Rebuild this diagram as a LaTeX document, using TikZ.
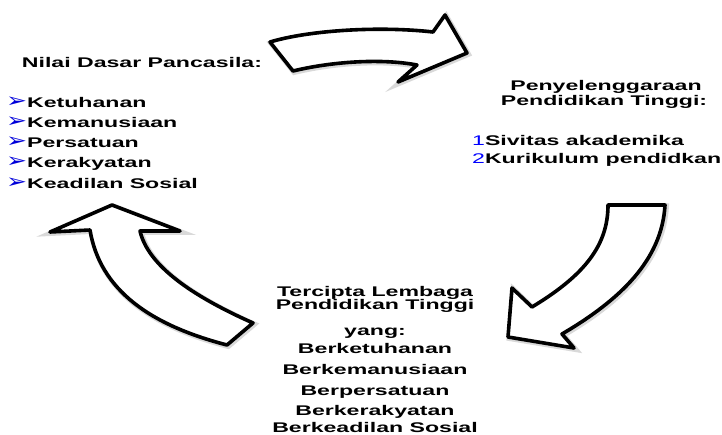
\documentclass[tikz,border=0pt]{standalone}
\usepackage{fontspec}
\newfontfamily\df[FakeStretch=1.65]{Liberation Sans Bold}
\newfontfamily\dn[FakeStretch=1.65]{Liberation Sans}
\newfontfamily\bul[FakeStretch=1.25]{DejaVu Sans}
\newcommand\bulmark{{\bul\fontsize{20}{20}\selectfont\color{blue!85!black}➢}}
\newcommand\nummark[1]{{\dn\color{blue}#1}}
\begin{document}
\begin{tikzpicture}[x=1pt,y=-1pt,
  txt/.style={font=\df\fontsize{14}{14}\selectfont, inner sep=0pt, text=black},
  arrowshape/.style={draw=black, fill=white, line width=3.6pt, line join=round,
    preaction={draw=black!60, line width=5.5pt, opacity=0.25,
      transform canvas={shift={(1.2pt,-1.2pt)}}}}]
\useasboundingbox (0,0) rectangle (722,434);

% top arrow (left to right)
\draw[arrowshape] (270,42) .. controls (310,30) and (380,26) .. (433,32)
  -- (445,15) -- (467,53) -- (398,82) -- (417,65)
  .. controls (380,58) and (330,62) .. (293,71) -- cycle;

% right arrow (down to the bottom text)
\draw[arrowshape] (608,205) -- (665,205)
  .. controls (662,260) and (620,300) .. (562,334)
  -- (574,348) -- (508,337) -- (512,288) -- (532,307)
  .. controls (585,275) and (608,245) .. (608,205) -- cycle;

% left arrow (up to the left text)
\draw[arrowshape] (112,205) -- (180,231) -- (140,231)
  .. controls (148,265) and (190,295) .. (253,323)
  -- (227,345)
  .. controls (150,325) and (100,290) .. (90,230)
  -- (50,232) -- cycle;

% left block
\node[txt, anchor=base] (lt) at (142,67) {Nilai Dasar Pancasila:};
\node[txt, anchor=base west] (l1) at (6,107) {\bulmark Ketuhanan};
\node[txt, anchor=base west] (l2) at (6,127) {\bulmark Kemanusiaan};
\node[txt, anchor=base west] (l3) at (6,147) {\bulmark Persatuan};
\node[txt, anchor=base west] (l4) at (6,167) {\bulmark Kerakyatan};
\node[txt, anchor=base west] (l5) at (6,188) {\bulmark Keadilan Sosial};

% right block
\node[txt, anchor=base] (rt1) at (606,90) {Penyelenggaraan};
\node[txt, anchor=base] (rt2) at (604,105) {Pendidikan Tinggi:};
\node[txt, anchor=base west] (r1) at (472,145) {\nummark{1}Sivitas akademika};
\node[txt, anchor=base west] (r2) at (472,163) {\nummark{2}Kurikulum pendidkan};

% bottom block
\node[txt, anchor=base] (bt1) at (375,296) {Tercipta Lembaga};
\node[txt, anchor=base] (bt2) at (375,309) {Pendidikan Tinggi};
\node[txt, anchor=base] (bt3) at (375,335) {yang:};
\node[txt, anchor=base] (b1) at (375,353) {Berketuhanan};
\node[txt, anchor=base] (b2) at (375,374) {Berkemanusiaan};
\node[txt, anchor=base] (b3) at (375,395) {Berpersatuan};
\node[txt, anchor=base] (b4) at (375,415) {Berkerakyatan};
\node[txt, anchor=base] (b5) at (375,432) {Berkeadilan Sosial};
\end{tikzpicture}
\end{document}
